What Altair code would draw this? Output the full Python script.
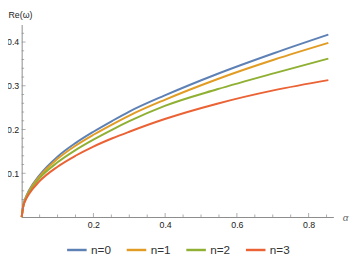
import altair as alt
import pandas as pd

# --- data ---
alpha = [0.0, 0.005, 0.01, 0.02, 0.05, 0.1, 0.15, 0.2, 0.253, 0.3, 0.399, 0.545, 0.705, 0.855]
re_n0 = [0.0, 0.029, 0.042, 0.060, 0.096, 0.138, 0.169, 0.195, 0.220, 0.241, 0.278, 0.327, 0.375, 0.417]
re_n1 = [0.0, 0.028, 0.041, 0.058, 0.093, 0.133, 0.163, 0.188, 0.212, 0.232, 0.268, 0.315, 0.360, 0.398]
re_n2 = [0.0, 0.027, 0.039, 0.056, 0.089, 0.125, 0.153, 0.177, 0.200, 0.219, 0.254, 0.292, 0.329, 0.362]
re_n3 = [0.0, 0.026, 0.037, 0.052, 0.082, 0.115, 0.140, 0.161, 0.180, 0.195, 0.224, 0.259, 0.290, 0.313]
series_names = ["n=0", "n=1", "n=2", "n=3"]
colors = ["#5E81B5", "#E19C24", "#8FB032", "#EB6235"]

x_major = [0.2, 0.4, 0.6, 0.8]
x_minor = [0.05, 0.1, 0.15, 0.25, 0.3, 0.35, 0.45, 0.5, 0.55, 0.65, 0.7, 0.75, 0.85]
y_major = [0.1, 0.2, 0.3, 0.4]
y_minor = [0.02, 0.04, 0.06, 0.08, 0.12, 0.14, 0.16, 0.18, 0.22, 0.24, 0.26, 0.28,
           0.32, 0.34, 0.36, 0.38, 0.42]

rows = []
for name, vals in zip(series_names, [re_n0, re_n1, re_n2, re_n3]):
    for a, r in zip(alpha, vals):
        rows.append({"alpha": a, "re": r, "n": name})
df = pd.DataFrame(rows)

FONT = "Liberation Sans"
AX = "#8a8a8a"
xdom = [0, 0.869]
ydom = [0, 0.44]
W, H = 319, 197

xscale = alt.Scale(domain=xdom, nice=False, zero=False)
yscale = alt.Scale(domain=ydom, nice=False, zero=False)

xaxis = alt.Axis(values=x_major, format=".1f", ticks=False, grid=False,
                 domainColor=AX, labelFont=FONT, labelFontSize=9,
                 labelColor="#222", labelPadding=4,
                 title="α", titleFont=FONT, titleFontSize=10,
                 titleFontStyle="italic", titleFontWeight="normal",
                 titleColor="#666", titleAngle=0, titleAlign="left",
                 titleBaseline="middle", titleX=W + 9, titleY=1)
yaxis = alt.Axis(values=y_major, format=".1f", ticks=False, grid=False,
                 domainColor=AX, labelFont=FONT, labelFontSize=9,
                 labelColor="#222", labelPadding=3,
                 title="Re(ω)", titleFont=FONT, titleFontSize=9,
                 titleFontWeight="normal", titleColor="#222",
                 titleAngle=0, titleAlign="left", titleBaseline="middle",
                 titleX=-14, titleY=-10)

lines = alt.Chart(df).mark_line(strokeWidth=2, interpolate="monotone").encode(
    x=alt.X("alpha:Q", scale=xscale, axis=xaxis),
    y=alt.Y("re:Q", scale=yscale, axis=yaxis),
    color=alt.Color("n:N", scale=alt.Scale(domain=series_names, range=colors),
                    legend=alt.Legend(title=None, orient="none", direction="horizontal",
                                      legendX=45, legendY=219, padding=0,
                                      symbolType="stroke", symbolSize=400,
                                      symbolStrokeWidth=2.5, labelFont=FONT,
                                      labelFontSize=12, labelColor="#333",
                                      labelOffset=3, columnPadding=10)),
)

xmaj = pd.DataFrame({"alpha": x_major})
xmin = pd.DataFrame({"alpha": x_minor})
ymaj = pd.DataFrame({"re": y_major})
ymin = pd.DataFrame({"re": y_minor})


def xticks(d, size):
    return alt.Chart(d).mark_tick(orient="vertical", size=size, thickness=1,
                                  color=AX, yOffset=-size / 2).encode(
        x=alt.X("alpha:Q", scale=xscale, axis=xaxis),
        y=alt.YDatum(0, scale=yscale, axis=yaxis),
    )


def yticks(d, size):
    return alt.Chart(d).mark_tick(orient="horizontal", size=size, thickness=1,
                                  color=AX, xOffset=size / 2).encode(
        y=alt.Y("re:Q", scale=yscale, axis=yaxis),
        x=alt.XDatum(0, scale=xscale, axis=xaxis),
    )


chart = alt.layer(
    lines,
    xticks(xmaj, 4), xticks(xmin, 2.5),
    yticks(ymaj, 4), yticks(ymin, 2.5),
).properties(
    width=W, height=H,
    autosize=alt.AutoSizeParams(type="none"),
    padding={"left": 14, "top": 14, "right": 16, "bottom": 38},
).configure_view(stroke=None)

chart.save("out.html", embed_options={"renderer": "svg", "actions": False})
